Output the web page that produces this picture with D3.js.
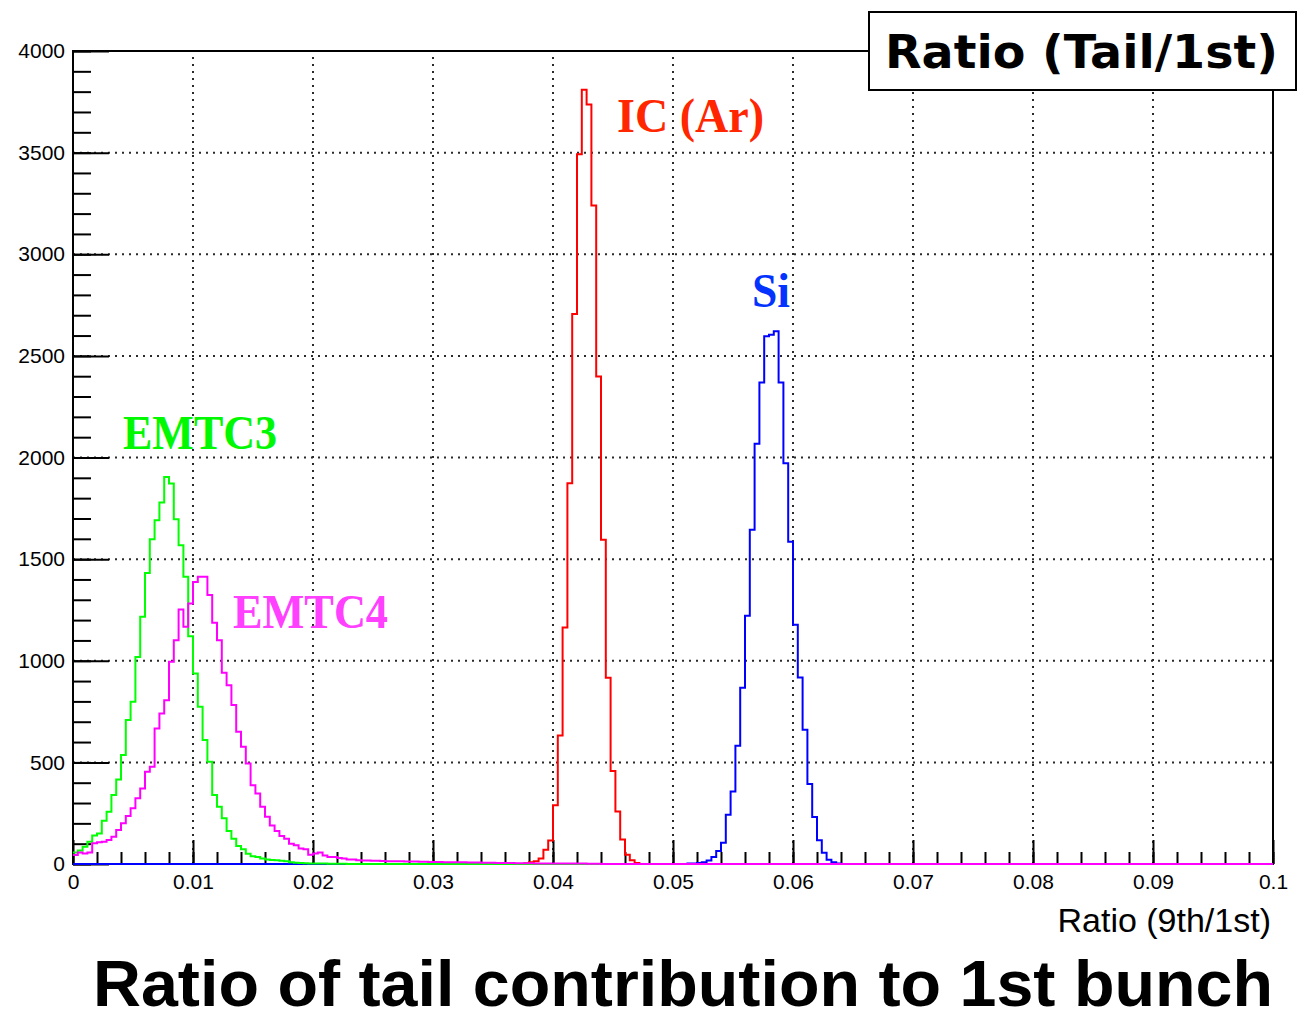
<!DOCTYPE html>
<html>
<head>
<meta charset="utf-8">
<script src="https://cdnjs.cloudflare.com/ajax/libs/d3/7.8.5/d3.min.js"></script>
<style>
  html, body { margin: 0; padding: 0; background: #fff; }
  svg { display: block; }
</style>
</head>
<body>
<svg id="chart" width="1305" height="1019"></svg>
<script>
// Histogram binning: 250 bins of width 0.0004 over [0, 0.1]
const binWidth = 0.0004;
const nBins = 250;

// EMTC3 counts, starting at bin 0
const emtc3FirstBin = 0;
const emtc3Counts = [
  56, 66, 85, 110, 140, 150, 213, 257, 339, 416,
  536, 708, 798, 1019, 1216, 1432, 1598, 1691, 1778, 1904,
  1872, 1696, 1568, 1413, 1121, 937, 774, 610, 503, 339,
  282, 225, 162, 124, 88, 72, 50, 38, 34, 27,
  22, 20, 19, 16, 14, 9, 6, 5, 4, 3,
  3, 2, 2, 1, 1, 1, 1
];

// EMTC4 counts, starting at bin 0
const emtc4FirstBin = 0;
const emtc4Counts = [
  44, 56, 52, 56, 102, 107, 110, 118, 134, 167,
  200, 236, 274, 323, 372, 454, 479, 667, 741, 806,
  995, 1101, 1252, 1167, 1282, 1388, 1413, 1413, 1323, 1187,
  1101, 941, 880, 782, 651, 577, 495, 388, 347, 282,
  233, 190, 162, 138, 124, 100, 92, 76, 72, 46,
  52, 56, 42, 35, 34, 30, 27, 22, 22, 19,
  17, 17, 16, 16, 15, 14, 14, 13, 13, 12,
  12, 12, 11, 11, 10, 10, 10, 9, 9, 8,
  8, 8, 7, 7, 7, 6, 6, 6, 5, 5,
  5, 5, 4, 4, 4, 4, 3, 3, 3, 3,
  3, 2, 2, 2, 2, 2, 2, 1, 1, 1
];

// IC (Ar) counts, starting at bin 94
const icArFirstBin = 94;
const icArCounts = [
  4, 8, 14, 27, 70, 116, 289, 632, 1164, 1873,
  2706, 3492, 3809, 3737, 3240, 2398, 1595, 916, 457, 258,
  120, 45, 18, 5
];

// Si counts, starting at bin 128
const siFirstBin = 128;
const siCounts = [
  2, 3, 5, 9, 17, 35, 64, 104, 242, 357,
  582, 867, 1222, 1645, 2068, 2369, 2597, 2604, 2621, 2369,
  1972, 1585, 1177, 918, 660, 394, 231, 117, 55, 21,
  9, 3
];

// Axis ticks and labels
const xMajorTicks = [0, 0.01, 0.02, 0.03, 0.04, 0.05, 0.06, 0.07, 0.08, 0.09, 0.1];
const xTickLabels = ["0", "0.01", "0.02", "0.03", "0.04", "0.05", "0.06", "0.07", "0.08", "0.09", "0.1"];
const yMajorTicks = [0, 500, 1000, 1500, 2000, 2500, 3000, 3500, 4000];
const xTitle = "Ratio (9th/1st)";
const boxTitle = "Ratio (Tail/1st)";
const mainTitle = "Ratio of tail contribution to 1st bunch";

const series = [
  { name: "IC (Ar)", first: icArFirstBin, counts: icArCounts, line: "#ff0000", text: "#ff2600", lx: 617, ly: 132, lw: 147 },
  { name: "Si",      first: siFirstBin,   counts: siCounts,   line: "#0000ff", text: "#0433ff", lx: 752, ly: 307, lw: 38 },
  { name: "EMTC3",   first: emtc3FirstBin, counts: emtc3Counts, line: "#00ff00", text: "#00f900", lx: 123, ly: 449, lw: 154 },
  { name: "EMTC4",   first: emtc4FirstBin, counts: emtc4Counts, line: "#ff00ff", text: "#ff40ff", lx: 233, ly: 628, lw: 155 }
];

const plot = { left: 73, right: 1273, top: 51, bottom: 864 };

const svg = d3.select("#chart");
const x = d3.scaleLinear().domain([0, 0.1]).range([plot.left, plot.right]);
const y = d3.scaleLinear().domain([0, 4000]).range([plot.bottom, plot.top]);

// dotted grid at major ticks
const grid = svg.append("g").attr("stroke", "#2a2a2a").attr("stroke-width", 2)
  .attr("stroke-dasharray", "2,5");
grid.selectAll("line.gx").data(xMajorTicks.slice(1, -1)).join("line")
  .attr("x1", d => x(d)).attr("x2", d => x(d))
  .attr("y1", plot.bottom).attr("y2", plot.top);
grid.selectAll("line.gy").data(yMajorTicks.slice(1, -1)).join("line")
  .attr("x1", plot.left).attr("x2", plot.right)
  .attr("y1", d => y(d)).attr("y2", d => y(d));

// frame
svg.append("rect")
  .attr("x", plot.left).attr("y", plot.top)
  .attr("width", plot.right - plot.left).attr("height", plot.bottom - plot.top)
  .attr("fill", "none").attr("stroke", "#000").attr("stroke-width", 2);

// x axis: major ticks with labels, minor ticks every 0.002
const xAxisMajor = d3.axisBottom(x).tickValues(xMajorTicks)
  .tickFormat((d, i) => xTickLabels[i]).tickSize(-24).tickSizeOuter(0).tickPadding(10);
const xAxisMinor = d3.axisBottom(x).tickValues(d3.range(0, 51).map(i => i * 0.002))
  .tickFormat("").tickSize(-12).tickSizeOuter(0);
const gxMinor = svg.append("g").attr("transform", `translate(0,${plot.bottom})`).call(xAxisMinor);
const gxMajor = svg.append("g").attr("transform", `translate(0,${plot.bottom})`).call(xAxisMajor);

// y axis: major ticks every 500, minor every 100
const yAxisMajor = d3.axisLeft(y).tickValues(yMajorTicks)
  .tickFormat(d3.format("d")).tickSize(-36).tickSizeOuter(0).tickPadding(8);
const yAxisMinor = d3.axisLeft(y).tickValues(d3.range(0, 41).map(i => i * 100))
  .tickFormat("").tickSize(-18).tickSizeOuter(0);
const gyMinor = svg.append("g").attr("transform", `translate(${plot.left},0)`).call(yAxisMinor);
const gyMajor = svg.append("g").attr("transform", `translate(${plot.left},0)`).call(yAxisMajor);

[gxMinor, gxMajor, gyMinor, gyMajor].forEach(g => {
  g.select(".domain").remove();
  g.selectAll(".tick line").attr("stroke", "#000").attr("stroke-width", 2);
  g.selectAll(".tick text")
    .attr("font-family", "'Liberation Sans', Arial, sans-serif")
    .attr("font-size", 21).attr("fill", "#000");
});

// histograms as step outlines
const line = d3.line()
  .x(d => x(d[0])).y(d => y(d[1]))
  .curve(d3.curveStepAfter);

series.forEach(s => {
  const vals = new Array(nBins).fill(0);
  s.counts.forEach((c, i) => { vals[s.first + i] = c; });
  const pts = vals.map((v, i) => [i * binWidth, v]);
  pts.push([nBins * binWidth, vals[nBins - 1]]);
  svg.append("path").datum(pts)
    .attr("d", line)
    .attr("fill", "none")
    .attr("stroke", s.line)
    .attr("stroke-width", 2)
    .attr("stroke-linejoin", "miter");
});

// series labels
svg.append("g").selectAll("text").data(series).join("text")
  .attr("x", d => d.lx).attr("y", d => d.ly)
  .attr("fill", d => d.text)
  .attr("font-family", "'Liberation Serif', 'Times New Roman', serif")
  .attr("font-weight", "bold")
  .attr("font-size", 48)
  .attr("textLength", d => d.lw)
  .attr("lengthAdjust", "spacingAndGlyphs")
  .text(d => d.name);

// x axis title
svg.append("text")
  .attr("x", 1271).attr("y", 932)
  .attr("text-anchor", "end")
  .attr("font-family", "'Liberation Sans', Arial, sans-serif")
  .attr("font-size", 34)
  .attr("fill", "#000")
  .text(xTitle);

// boxed title in the top-right corner
svg.append("rect")
  .attr("x", 869).attr("y", 12).attr("width", 427).attr("height", 78)
  .attr("fill", "#fff").attr("stroke", "#000").attr("stroke-width", 2);
svg.append("text")
  .attr("x", 885).attr("y", 68)
  .attr("font-family", "'DejaVu Sans', Verdana, sans-serif")
  .attr("font-weight", "bold")
  .attr("font-size", 47)
  .attr("textLength", 393)
  .attr("lengthAdjust", "spacingAndGlyphs")
  .attr("fill", "#000")
  .text(boxTitle);

// main caption
svg.append("text")
  .attr("x", 93).attr("y", 1006)
  .attr("font-family", "'Liberation Sans', Arial, sans-serif")
  .attr("font-weight", "bold")
  .attr("font-size", 64)
  .attr("textLength", 1180)
  .attr("lengthAdjust", "spacingAndGlyphs")
  .attr("fill", "#000")
  .text(mainTitle);
</script>
</body>
</html>
